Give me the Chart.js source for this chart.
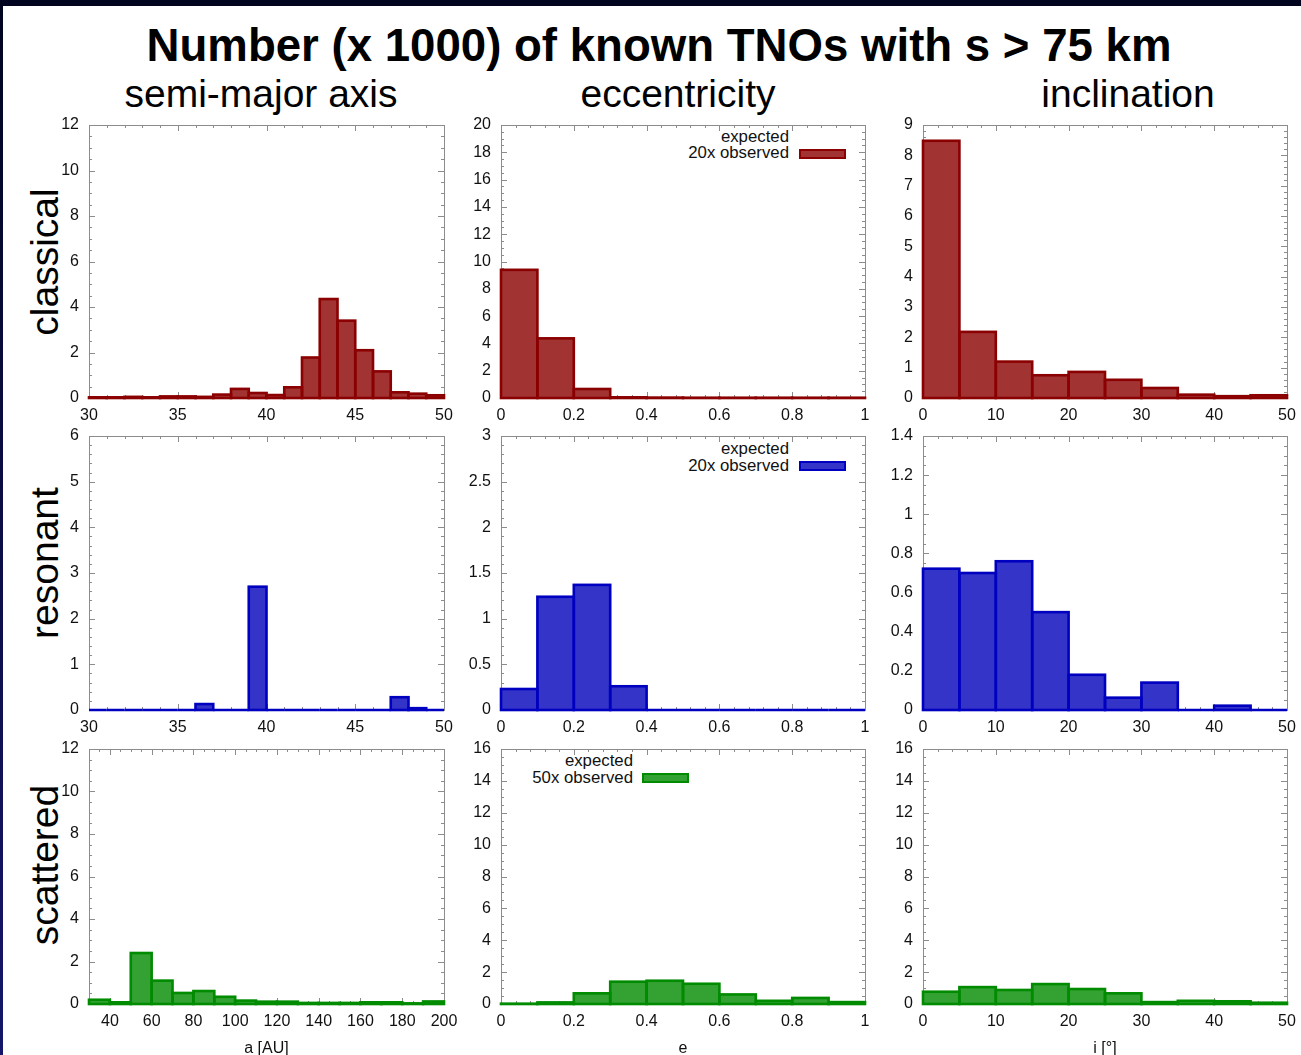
<!DOCTYPE html>
<html><head><meta charset="utf-8">
<script src="https://cdn.jsdelivr.net/npm/chart.js@4.4.1/dist/chart.umd.min.js"></script>
<style>
html,body{margin:0;padding:0;width:1301px;height:1055px;overflow:hidden;background:linear-gradient(#01041f,#16166a);font-family:'Liberation Sans',Arial,Helvetica,sans-serif;}
#sheet{position:absolute;left:3px;top:6px;width:1298px;height:1049px;background:#fff;}
.t{position:absolute;white-space:nowrap;line-height:1;color:#000;}
.c{transform:translateX(-50%);}
.rot{transform:translate(-50%,-50%) rotate(-90deg);}
.lg{position:absolute;white-space:nowrap;line-height:1;font-size:16.8px;color:#111;text-align:right;}
.sw{position:absolute;width:47px;height:10px;box-sizing:border-box;border:2px solid;}
.pn{position:absolute;}
</style></head>
<body>
<div id="sheet"></div>
<div class="t c" style="left:659px;top:23px;font-size:45.6px;font-weight:bold;">Number (x 1000) of known TNOs with s &gt; 75 km</div>
<div class="t c" style="left:261px;top:74px;font-size:39px;">semi-major axis</div>
<div class="t c" style="left:678px;top:74px;font-size:39px;">eccentricity</div>
<div class="t c" style="left:1128px;top:74px;font-size:39px;">inclination</div>
<div class="t rot" style="left:44px;top:262px;font-size:39px;">classical</div>
<div class="t rot" style="left:44px;top:563px;font-size:39px;">resonant</div>
<div class="t rot" style="left:44px;top:865px;font-size:39px;">scattered</div>

<div class="lg" style="right:512px;top:129px;">expected</div>
<div class="lg" style="right:512px;top:145px;">20x observed</div>
<div class="sw" style="left:799px;top:149px;background:#a13333;border-color:#8b0000;"></div>

<div class="lg" style="right:512px;top:441px;">expected</div>
<div class="lg" style="right:512px;top:458px;">20x observed</div>
<div class="sw" style="left:799px;top:461px;background:#3434c8;border-color:#0000c0;"></div>

<div class="lg" style="right:668px;top:753px;">expected</div>
<div class="lg" style="right:668px;top:770px;">50x observed</div>
<div class="sw" style="left:642px;top:773px;background:#33a233;border-color:#008b00;"></div>

<script>
// ---------- DATA ----------
// bin centres
const aCenters = [30.5,31.5,32.5,33.5,34.5,35.5,36.5,37.5,38.5,39.5,40.5,41.5,42.5,43.5,44.5,45.5,46.5,47.5,48.5,49.5];
const aWideCenters = [35,45,55,65,75,85,95,105,115,125,135,145,155,165,175,185,195];
const eCenters = [0.05,0.15,0.25,0.35,0.45,0.55,0.65,0.75,0.85,0.95];
const iCenters = [2.5,7.5,12.5,17.5,22.5,27.5,32.5,37.5,42.5,47.5];

// values (x 1000)
const classicalA = [0.03,0.03,0.05,0.03,0.07,0.07,0.05,0.15,0.40,0.22,0.13,0.47,1.78,4.35,3.40,2.10,1.17,0.25,0.19,0.12];
const classicalE = [9.39,4.37,0.66,0.05,0.03,0.02,0.02,0.02,0.02,0.02];
const classicalI = [8.48,2.18,1.20,0.75,0.86,0.60,0.33,0.11,0.06,0.09];
const resonantA = [0,0,0,0,0,0,0.13,0,0,2.70,0,0,0,0,0,0,0,0.28,0.04,0];
const resonantE = [0.23,1.24,1.37,0.26,0,0,0,0,0,0];
const resonantI = [0.722,0.70,0.76,0.50,0.18,0.063,0.14,0,0.022,0];
const scatteredA = [0.20,0.08,2.40,1.10,0.52,0.61,0.34,0.16,0.11,0.11,0.05,0.05,0.05,0.08,0.08,0.03,0.12];
const scatteredE = [0.02,0.10,0.67,1.40,1.46,1.27,0.60,0.20,0.38,0.12];
const scatteredI = [0.77,1.06,0.88,1.25,0.94,0.67,0.12,0.20,0.17,0.08];

// tick labels
const xTicksA = [30,35,40,45,50];
const xTicksAWide = [40,60,80,100,120,140,160,180,200];
const xTicksE = [0,0.2,0.4,0.6,0.8,1];
const xTicksI = [0,10,20,30,40,50];
const yTicksClassicalA = [0,2,4,6,8,10,12];
const yTicksClassicalE = [0,2,4,6,8,10,12,14,16,18,20];
const yTicksClassicalI = [0,1,2,3,4,5,6,7,8,9];
const yTicksResonantA = [0,1,2,3,4,5,6];
const yTicksResonantE = [0,0.5,1,1.5,2,2.5,3];
const yTicksResonantI = [0,0.2,0.4,0.6,0.8,1,1.2,1.4];
const yTicksScatteredA = [0,2,4,6,8,10,12];
const yTicksScatteredE = [0,2,4,6,8,10,12,14,16];
const yTicksScatteredI = [0,2,4,6,8,10,12,14,16];

const xTitles = ['a [AU]','e','i [°]'];
const legendLabels = ['expected 20x observed','expected 20x observed','expected 50x observed'];

// ---------- STYLE / LAYOUT ----------
const COLORS = [
  {fill:'#a13333', line:'#8b0000'},
  {fill:'#3434c8', line:'#0000c0'},
  {fill:'#33a233', line:'#008b00'}
];
const COLS = [{L:89,R:444},{L:501,R:865},{L:923,R:1287}];
const ROWS = [{T:125,B:398},{T:436,B:710},{T:749,B:1004}];
const PAD_L = 60, PAD_T = 20, PAD_R = 30;

Chart.defaults.font.family = "'Liberation Sans', Arial, Helvetica, sans-serif";
Chart.defaults.font.size = 16;
Chart.defaults.color = '#111';

const fmt = v => String(parseFloat(Number(v).toFixed(6)));

const framePlugin = {
  id: 'frame',
  beforeDatasetsDraw(chart, args, opts) {
    const {ctx, chartArea: a, scales: {x, y}} = chart;
    ctx.save();
    ctx.strokeStyle = '#8c8c8c';
    ctx.lineWidth = 1;
    ctx.strokeRect(a.left + 0.5, a.top + 0.5, a.right - a.left, a.bottom - a.top);
    const MAJ = 6, MIN = 3;
    function ticksFor(scale, n) {
      const t = scale.ticks.map(k => k.value);
      const out = [];
      const step = (t[1] - t[0]) / n;
      const eps = step * 1e-6;
      for (let i = -200; i <= 400; i++) {
        const v = t[0] + i * step;
        if (v < scale.min - eps || v > scale.max + eps) continue;
        out.push({v, major: ((i % n) + n) % n === 0});
      }
      return out;
    }
    ctx.beginPath();
    ticksFor(x, opts.xMinor).forEach(({v, major}) => {
      const px = Math.round(x.getPixelForValue(v)) + 0.5;
      const L = major ? MAJ : MIN;
      ctx.moveTo(px, a.bottom); ctx.lineTo(px, a.bottom - L);
      ctx.moveTo(px, a.top); ctx.lineTo(px, a.top + L);
    });
    ticksFor(y, opts.yMinor).forEach(({v, major}) => {
      const py = Math.round(y.getPixelForValue(v)) + 0.5;
      const L = major ? MAJ : MIN;
      ctx.moveTo(a.left, py); ctx.lineTo(a.left + L, py);
      ctx.moveTo(a.right, py); ctx.lineTo(a.right - L, py);
    });
    ctx.stroke();
    ctx.restore();
  }
};

const outlinePlugin = {
  id: 'outline',
  afterDatasetsDraw(chart, args, opts) {
    const {ctx} = chart;
    ctx.save();
    ctx.strokeStyle = opts.color;
    ctx.lineWidth = opts.width;
    ctx.lineJoin = 'miter';
    chart.getDatasetMeta(0).data.forEach(el => {
      const p = el.getProps(['x','y','base','width'], true);
      const top = Math.min(p.y, p.base), h = Math.abs(p.base - p.y);
      ctx.strokeRect(p.x - p.width / 2, top, p.width, h);
    });
    ctx.restore();
  }
};

function panel(col, row, cfg) {
  const {L, R} = COLS[col], {T, B} = ROWS[row];
  const axisH = row === 2 ? 54 : 30;
  const div = document.createElement('div');
  div.className = 'pn';
  div.style.left = (L - PAD_L) + 'px';
  div.style.top = (T - PAD_T) + 'px';
  div.style.width = (R - L + PAD_L + PAD_R) + 'px';
  div.style.height = (B - T + PAD_T + axisH) + 'px';
  const cv = document.createElement('canvas');
  div.appendChild(cv);
  document.body.appendChild(div);
  const col3 = COLORS[row];
  new Chart(cv, {
    type: 'bar',
    data: {
      datasets: [{
        label: legendLabels[row],
        data: cfg.centers.map((c, i) => ({x: c, y: cfg.values[i]})),
        backgroundColor: col3.fill,
        borderWidth: 0,
        barPercentage: 1,
        categoryPercentage: 1,
        inflateAmount: 0
      }]
    },
    options: {
      responsive: true,
      maintainAspectRatio: false,
      animation: false,
      events: [],
      layout: {padding: {left: 0, top: PAD_T, right: PAD_R, bottom: 0}},
      plugins: {
        legend: {display: false},
        tooltip: {enabled: false},
        frame: {xMinor: cfg.xMinor, yMinor: cfg.yMinor},
        outline: {color: col3.line, width: 2.6}
      },
      scales: {
        x: {
          type: 'linear', min: cfg.xMin, max: cfg.xMax, offset: false,
          grid: {display: false, drawTicks: false, offset: false},
          border: {display: false},
          ticks: {padding: 8, autoSkip: false, maxRotation: 0, callback: fmt},
          afterBuildTicks: s => { s.ticks = cfg.xTicks.map(v => ({value: v})); },
          afterFit: s => { s.height = axisH; },
          title: {display: row === 2, text: xTitles[col], font: {size: 16}, padding: {top: 0, bottom: 0}}
        },
        y: {
          type: 'linear', min: 0, max: cfg.yTicks[cfg.yTicks.length - 1],
          grid: {display: false, drawTicks: false},
          border: {display: false},
          ticks: {padding: 10, autoSkip: false, callback: fmt},
          afterBuildTicks: s => { s.ticks = cfg.yTicks.map(v => ({value: v})); },
          afterFit: s => { s.width = PAD_L; }
        }
      }
    },
    plugins: [framePlugin, outlinePlugin]
  });
}

panel(0, 0, {centers: aCenters, values: classicalA, xTicks: xTicksA, yTicks: yTicksClassicalA, xMin: 30, xMax: 50, xMinor: 5, yMinor: 4});
panel(1, 0, {centers: eCenters, values: classicalE, xTicks: xTicksE, yTicks: yTicksClassicalE, xMin: 0, xMax: 1, xMinor: 5, yMinor: 4});
panel(2, 0, {centers: iCenters, values: classicalI, xTicks: xTicksI, yTicks: yTicksClassicalI, xMin: 0, xMax: 50, xMinor: 5, yMinor: 5});
panel(0, 1, {centers: aCenters, values: resonantA, xTicks: xTicksA, yTicks: yTicksResonantA, xMin: 30, xMax: 50, xMinor: 5, yMinor: 5});
panel(1, 1, {centers: eCenters, values: resonantE, xTicks: xTicksE, yTicks: yTicksResonantE, xMin: 0, xMax: 1, xMinor: 5, yMinor: 5});
panel(2, 1, {centers: iCenters, values: resonantI, xTicks: xTicksI, yTicks: yTicksResonantI, xMin: 0, xMax: 50, xMinor: 5, yMinor: 4});
panel(0, 2, {centers: aWideCenters, values: scatteredA, xTicks: xTicksAWide, yTicks: yTicksScatteredA, xMin: 30, xMax: 200, xMinor: 4, yMinor: 4});
panel(1, 2, {centers: eCenters, values: scatteredE, xTicks: xTicksE, yTicks: yTicksScatteredE, xMin: 0, xMax: 1, xMinor: 5, yMinor: 4});
panel(2, 2, {centers: iCenters, values: scatteredI, xTicks: xTicksI, yTicks: yTicksScatteredI, xMin: 0, xMax: 50, xMinor: 5, yMinor: 4});
</script>
</body></html>
